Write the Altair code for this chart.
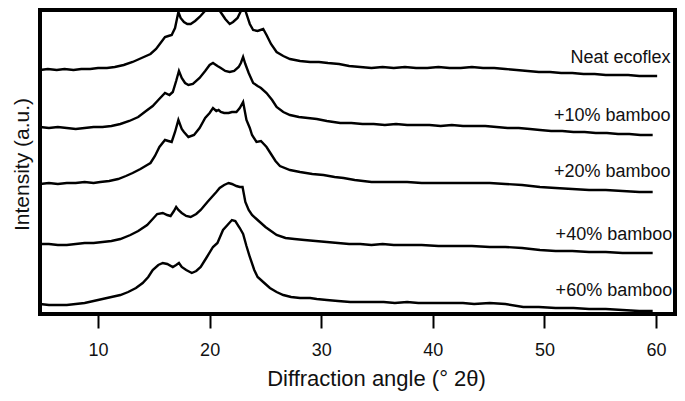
import altair as alt
import pandas as pd

# Series names and label positions
samples = ["Neat ecoflex", "+10% bamboo", "+20% bamboo", "+40% bamboo", "+60% bamboo"]
label_x = [61.3, 61.3, 61.3, 61.45, 61.45]
label_y = [251, 193, 137, 74, 18]

# Neat ecoflex
x1 = [4.8, 5.5, 6.3, 7.0, 7.8, 8.5, 9.3, 10.0, 10.8, 11.5, 12.3, 13.1, 13.9, 14.7, 15.2, 15.6, 16.0, 16.3,
      16.6, 16.9, 17.2, 17.4, 17.7, 18.0, 18.3, 18.7, 19.1, 19.5, 19.9, 20.2, 20.5, 20.8, 21.1, 21.4, 21.8,
      22.1, 22.5, 22.8, 23.0, 23.3, 23.6, 23.9, 24.3, 24.8, 25.1, 25.5, 26.0, 26.6, 27.2, 28.1, 29.0, 29.8,
      30.6, 31.6, 32.5, 33.5, 34.5, 35.5, 36.5, 37.5, 38.5, 39.5, 40.5, 41.5, 42.5, 43.5, 44.5, 45.5, 46.5,
      47.5, 48.5, 49.5, 50.5, 51.5, 52.5, 53.5, 54.5, 55.5, 56.5, 57.5, 58.5, 59.5, 60.1]
y1 = [244, 245, 244, 245, 244, 245, 245, 246, 246, 247, 249, 252, 256, 260, 265, 271, 277, 278,
      279, 286, 302, 296, 292, 290, 290, 293, 297, 302, 307, 309, 308, 305, 300, 295, 290,
      292, 296, 303, 311, 300, 290, 284, 283, 285, 279, 270, 262, 258, 255, 253, 252, 252,
      251, 250, 248, 247, 246, 247, 246, 247, 246, 246, 247, 246, 246, 247, 246, 246, 245,
      244, 243, 242, 242, 241, 241, 240, 240, 239, 239, 239, 238, 238, 238]

# +10% bamboo
x2 = [4.8, 5.6, 6.4, 7.2, 8.0, 8.8, 9.6, 10.4, 11.2, 12.0, 12.8, 13.6, 14.3, 14.9, 15.4, 16.0, 16.4, 16.7,
      17.0, 17.25, 17.5, 17.8, 18.1, 18.5, 19.1, 19.6, 20.0, 20.3, 20.7, 21.0, 21.4, 21.8, 22.2, 22.6, 22.8,
      23.0, 23.2, 23.5, 23.9, 24.3, 24.6, 25.1, 25.6, 26.0, 26.6, 27.2, 28.0, 28.8, 29.6, 30.5, 31.7, 32.7,
      33.7, 34.7, 35.7, 36.7, 37.7, 38.7, 39.7, 40.7, 41.7, 42.7, 43.7, 44.7, 45.7, 46.7, 47.7, 48.7, 49.6,
      50.6, 51.6, 52.6, 53.6, 54.6, 55.6, 56.6, 57.6, 58.6, 59.7]
y2 = [187, 186, 187, 186, 185, 186, 187, 187, 188, 190, 193, 197, 203, 208, 214, 221, 219, 222,
      233, 243, 236, 231, 229, 230, 236, 243, 249, 251, 248, 246, 243, 242, 243, 247, 251,
      257, 250, 241, 231, 228, 226, 221, 214, 207, 202, 199, 197, 196, 195, 193, 191, 191,
      190, 190, 189, 190, 189, 189, 189, 188, 189, 188, 188, 188, 187, 186, 186, 185, 184,
      183, 183, 182, 182, 181, 181, 180, 180, 179, 179]

# +20% bamboo
x3 = [4.8, 5.6, 6.4, 7.2, 8.0, 8.8, 9.6, 10.2, 11.0, 11.8, 12.5, 13.1, 13.8, 14.4, 14.7, 15.1, 15.5, 16.0,
      16.3, 16.6, 16.9, 17.2, 17.5, 17.7, 18.1, 18.6, 19.1, 19.6, 20.0, 20.3, 20.6, 20.8, 21.0, 21.3, 21.7,
      22.0, 22.4, 22.7, 23.0, 23.3, 23.6, 23.8, 24.2, 24.6, 25.1, 25.5, 25.9, 26.3, 27.2, 28.1, 29.2, 30.2,
      31.2, 32.0, 33.0, 34.5, 36.0, 37.7, 39.0, 40.5, 42.0, 43.5, 45.1, 46.5, 48.0, 49.6, 51.0, 52.5, 54.0,
      55.5, 57.0, 58.5, 59.7]
y3 = [130, 131, 130, 131, 131, 132, 131, 132, 133, 135, 138, 141, 145, 149, 151, 158, 167, 174,
      173, 172, 182, 194, 185, 182, 177, 179, 186, 196, 201, 206, 203, 204, 202, 201, 201,
      202, 202, 206, 212, 194, 186, 179, 172, 173, 167, 160, 153, 148, 144, 142, 140, 139,
      137, 136, 134, 132, 132, 132, 131, 131, 131, 131, 131, 130, 129, 127, 126, 125, 124,
      124, 123, 122, 122]

# +40% bamboo
x4 = [4.8, 5.6, 6.4, 7.2, 8.0, 8.8, 9.6, 10.4, 11.2, 12.0, 12.9, 13.6, 14.4, 14.9, 15.3, 15.8, 16.2, 16.5,
      16.8, 17.0, 17.2, 17.5, 17.9, 18.3, 18.8, 19.2, 19.8, 20.2, 20.6, 20.9, 21.3, 21.7, 22.0, 22.4, 22.7,
      22.95, 23.2, 23.5, 23.8, 24.2, 24.5, 25.0, 25.5, 26.0, 26.8, 27.6, 28.5, 29.5, 30.5, 31.5, 32.5, 33.5,
      34.5, 35.5, 36.5, 37.7, 39.0, 40.5, 42.0, 43.5, 45.1, 46.5, 48.0, 49.6, 51.0, 52.5, 54.0, 55.5, 57.0,
      58.5, 59.7]
y4 = [70, 70, 69, 69, 70, 71, 71, 72, 73, 75, 79, 83, 89, 95, 100, 101, 99, 98,
      103, 107, 104, 101, 98, 97, 100, 104, 112, 117, 122, 126, 129, 131, 130, 128, 127,
      127, 112, 104, 99, 95, 92, 87, 83, 79, 76, 75, 74, 73, 72, 71, 70, 70,
      69, 70, 69, 69, 69, 68, 68, 68, 67, 67, 66, 64, 63, 63, 62, 62, 61,
      61, 61]

# +60% bamboo
x5 = [4.8, 5.6, 6.4, 7.2, 8.0, 8.8, 9.6, 10.4, 11.2, 12.0, 12.7, 13.4, 14.0, 14.5, 14.9, 15.4, 15.8, 16.2,
      16.7, 17.0, 17.25, 17.5, 17.9, 18.4, 18.8, 19.2, 19.7, 20.3, 20.7, 21.2, 21.6, 22.0, 22.3, 22.7, 23.0,
      23.3, 23.6, 24.0, 24.3, 24.8, 25.4, 26.0, 26.6, 27.3, 28.1, 29.0, 29.6, 30.5, 31.5, 32.6, 33.6, 34.6,
      35.6, 36.6, 37.7, 38.7, 39.7, 40.7, 41.7, 42.7, 43.7, 45.1, 46.5, 48.1, 49.5, 51.0, 52.6, 54.0, 55.5,
      57.0, 58.5, 59.7]
y5 = [10, 9, 9, 9, 10, 11, 13, 15, 17, 19, 22, 26, 31, 37, 44, 49, 51, 50,
      47, 49, 51, 47, 44, 41, 43, 47, 56, 67, 71, 84, 89, 94, 93, 86, 80,
      68, 57, 44, 37, 32, 26, 22, 19, 17, 16, 16, 15, 14, 13, 12, 12, 12,
      12, 11, 12, 11, 11, 11, 11, 11, 10, 11, 10, 7, 7, 6, 6, 5, 5,
      4, 3, 3]

xs = [x1, x2, x3, x4, x5]
ys = [y1, y2, y3, y4, y5]

rows = []
for name, xv, yv in zip(samples, xs, ys):
    for a, b in zip(xv, yv):
        rows.append({"sample": name, "angle": a, "intensity": b})
df = pd.DataFrame(rows)
lab = pd.DataFrame({"sample": samples, "angle": label_x, "intensity": label_y})

FONT = "Liberation Sans"

xscale = alt.Scale(domain=[4.8, 61.7], nice=False, zero=False)
yscale = alt.Scale(domain=[0, 304], nice=False, zero=False)

lines = alt.Chart(df).mark_line(color="black", strokeWidth=2.4).encode(
    x=alt.X("angle:Q", scale=xscale,
            axis=alt.Axis(values=[10, 20, 30, 40, 50, 60], title="Diffraction angle (° 2θ)",
                          domain=False, grid=False, tickColor="black", tickWidth=2, tickSize=14,
                          labelPadding=13, labelFont=FONT, labelFontSize=18, labelColor="#111",
                          titleFont=FONT, titleFontSize=22, titleFontWeight="normal", titleColor="#111",
                          titleX=336, titleY=71, titleBaseline="alphabetic", titleAnchor="start", titleAlign="center")),
    y=alt.Y("intensity:Q", scale=yscale,
            axis=alt.Axis(title="Intensity (a.u.)", labels=False, ticks=False, domain=False, grid=False,
                          titleFont=FONT, titleFontSize=21, titleFontWeight="normal", titleColor="#111",
                          titleX=-12, titleY=154, titleBaseline="alphabetic", titleAngle=270, titleAlign="center")),
    detail="sample:N",
    order="angle:Q",
)

labels = alt.Chart(lab).mark_text(align="right", baseline="alphabetic", font=FONT, fontSize=18,
                                  color="#111").encode(
    x=alt.X("angle:Q", scale=xscale),
    y=alt.Y("intensity:Q", scale=yscale),
    text="sample:N",
)

chart = alt.layer(lines, labels).properties(
    width=635, height=304,
    padding={"left": 32, "top": 2, "right": 2, "bottom": 79},
    autosize=alt.AutoSizeParams(type="none"),
    background="white",
).configure_view(stroke="black", strokeWidth=4)

chart.save("out.html", embed_options={"renderer": "svg", "actions": False})
